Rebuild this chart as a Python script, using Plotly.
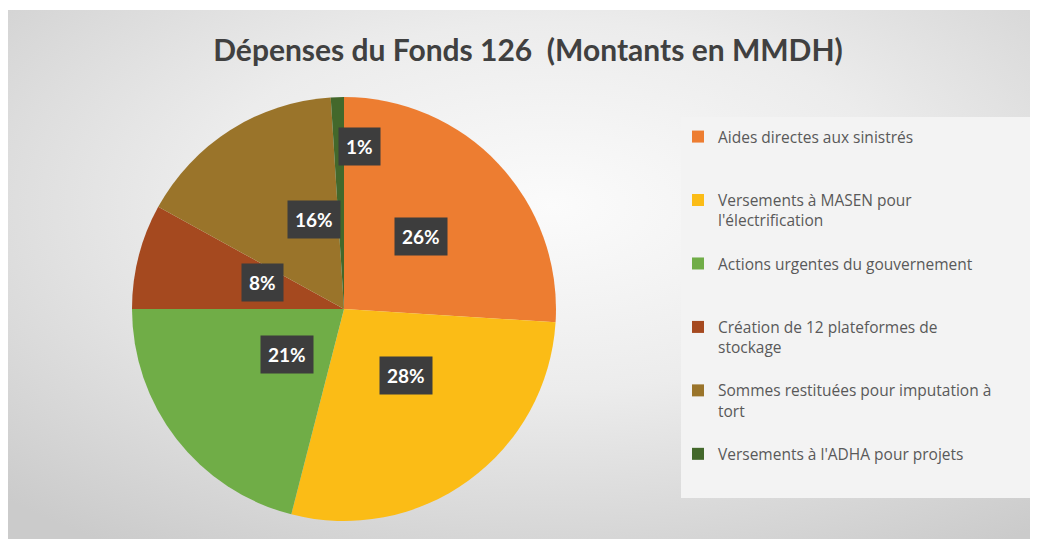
import base64
import math
import plotly.graph_objects as go

# Données (parts en %)
categories = [
    "Aides directes aux sinistrés",
    "Versements à MASEN pour<br>l'électrification",
    "Actions urgentes du gouvernement",
    "Création de 12 plateformes de<br>stockage",
    "Sommes restituées pour imputation à<br>tort",
    "Versements à l'ADHA pour projets",
]
shares = [26, 28, 21, 8, 16, 1]
colors = ["#ED7D31", "#FBBC16", "#70AD47", "#A5491F", "#9A742A", "#43682B"]
label_depth = [0.5, 0.5, 0.5, 0.5, 0.5, 0.86]

# figure slightly larger than the window so it runs to the right/bottom edges
W, H = 1046, 547
# pie placement in figure pixels (page adds an 8px body margin)
cx, cy, r = 336, 301, 212


def legend_text(lbl):
    # pad every entry to three lines so the pitch matches the original
    n = lbl.count("<br>") + 1
    return lbl + "<br>&nbsp;" * (3 - n)


svg = (
    '<svg xmlns="http://www.w3.org/2000/svg" width="1046" height="545">'
    '<defs><radialGradient id="g" cx="0.52" cy="0.36" r="0.75">'
    '<stop offset="0" stop-color="#fbfbfb"/>'
    '<stop offset="0.45" stop-color="#ececec"/>'
    '<stop offset="1" stop-color="#cbcbcb"/>'
    '</radialGradient></defs>'
    '<rect width="1046" height="545" fill="url(#g)"/></svg>'
)
bg_src = "data:image/svg+xml;base64," + base64.b64encode(svg.encode()).decode()

fig = go.Figure(go.Pie(
    labels=[legend_text(c) for c in categories],
    values=shares,
    marker=dict(colors=colors, line=dict(width=0)),
    sort=False,
    direction="clockwise",
    rotation=0,
    textinfo="none",
    hoverinfo="label+percent",
    domain=dict(x=[(cx - r) / W, (cx + r) / W], y=[1 - (cy + r) / H, 1 - (cy - r) / H]),
))

# percentages in dark boxes
total = sum(shares)
acc = 0
annotations = []
for v, f in zip(shares, label_depth):
    mid = (acc + v / 2) / total * 2 * math.pi
    acc += v
    px = cx + r * f * math.sin(mid)
    py = cy - r * f * math.cos(mid)
    annotations.append(dict(
        x=px / W, y=1 - py / H, xref="paper", yref="paper",
        text=f"<b>{round(v / total * 100)}%</b>", showarrow=False,
        font=dict(family="Lato", size=19, color="white"),
        bgcolor="#3d3d3d", borderpad=7,
    ))

fig.update_layout(
    width=W, height=H,
    margin=dict(l=0, r=0, t=0, b=0),
    paper_bgcolor="white",
    title=dict(
        text="<b>Dépenses du Fonds 126&nbsp; (Montants en MMDH)</b>",
        x=520 / W, xanchor="center", y=1 - 42 / H, yanchor="middle",
        font=dict(family="Lato", size=30, color="#404040"),
    ),
    images=[dict(
        source=bg_src, xref="paper", yref="paper",
        x=0, y=1 - 2 / H, sizex=1, sizey=545 / H,
        xanchor="left", yanchor="top", sizing="stretch", layer="below",
    )],
    shapes=[dict(
        type="rect", xref="paper", yref="paper", layer="below",
        x0=673 / W, x1=1023 / W, y0=1 - 490 / H, y1=1 - 109 / H,
        fillcolor="#f3f3f3", line=dict(width=0),
    )],
    legend=dict(
        x=670 / W, y=1 - 112 / H, xanchor="left", yanchor="top",
        bgcolor="rgba(0,0,0,0)", valign="top",
        font=dict(family="Open Sans", size=15.5, color="#595959"),
        itemclick=False,
    ),
    annotations=annotations,
)

fig.write_html("out.html")
